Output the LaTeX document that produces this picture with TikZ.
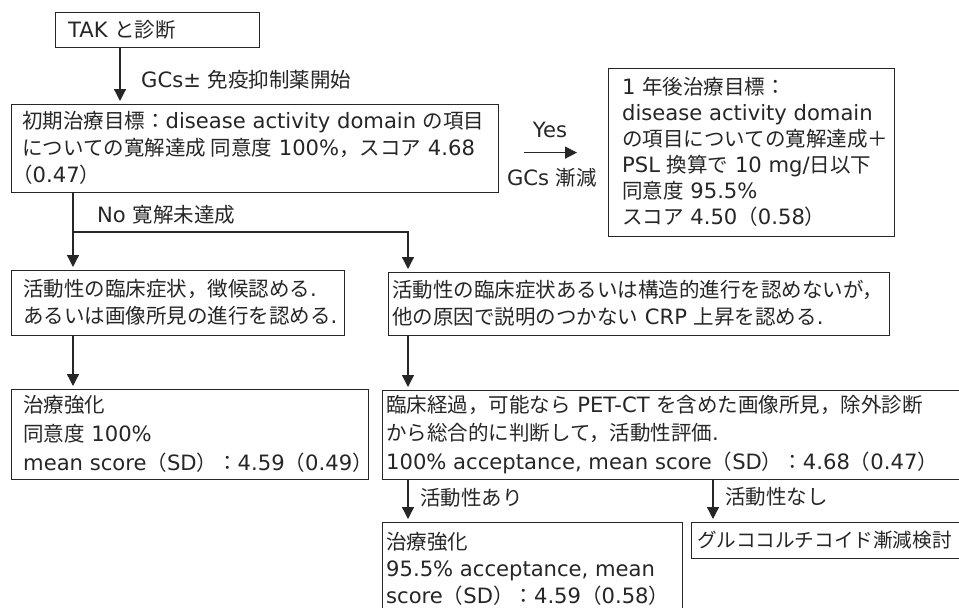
\documentclass[tikz,border=0pt]{standalone}
\usepackage{fontspec}
\setmainfont{DejaVu Sans}[Scale=1.03]
\newfontfamily\jp{Noto Sans CJK JP}
\newcommand\J[1]{{\jp #1}}
\usetikzlibrary{arrows.meta}
\definecolor{ink}{HTML}{262626}
\begin{document}
\begin{tikzpicture}[x=1pt,y=-1pt,
  frame/.style={draw=ink, line width=1.2pt, anchor=north west, inner sep=0pt},
  txt/.style={anchor=west, align=left, inner sep=0pt, text=ink, font=\fontsize{20.5}{27}\selectfont},
  arr/.style={draw=ink, line width=1.3pt, -{Triangle[length=12pt,width=12pt]}, shorten >=3pt}]
\useasboundingbox (0,0) rectangle (959,608);
\fill[white] (0,0) rectangle (959,608);

% columns for connectors
\coordinate (xa) at (120,0);
\coordinate (xl) at (73,0);
\coordinate (xr) at (408,0);
\coordinate (xg) at (713,0);
\coordinate (br) at (73,232);

% frames
\node[frame, minimum width=204pt, minimum height=35pt] (tak) at (55,12) {};
\node[frame, minimum width=487pt, minimum height=88pt] (init) at (11,104) {};
\node[frame, minimum width=286pt, minimum height=168pt] (goal) at (608,68) {};
\node[frame, minimum width=333pt, minimum height=65pt] (symA) at (11,270) {};
\node[frame, minimum width=501pt, minimum height=63pt] (crp) at (388,272) {};
\node[frame, minimum width=357pt, minimum height=90pt] (treatA) at (11,389) {};
\node[frame, minimum width=600pt, minimum height=89pt] (eval) at (382,390) {};
\node[frame, minimum width=300pt, minimum height=100pt] (treatB) at (382,522) {};
\node[frame, minimum width=300pt, minimum height=36pt] (taper) at (691,522) {};

% texts
\node[txt] (takT) at (68,29.5) {TAK \J{と診断}};
\node[txt] (initT) at (22,148) {\J{初期治療目標：}disease activity domain \J{の項目}\\
  \J{についての寛解達成 同意度} 100\%\J{，スコア} 4.68\\
  \kern-10pt\J{（}0.47\J{）}};
\node[txt, font=\fontsize{20.5}{26}\selectfont] (goalT) at (622,152) {1 \J{年後治療目標：}\\
  disease activity domain\\
  \J{の項目についての寛解達成＋}\\
  PSL \J{換算で} 10 mg/\J{日以下}\\
  \J{同意度} 95.5\%\\
  \J{スコア} 4.50\J{（}0.58\J{）}};
\node[txt] (symAT) at (23,302.5) {\J{活動性の臨床症状，徴候認める}.\\
  \J{あるいは画像所見の進行を認める}.};
\node[txt] (crpT) at (392,303.5) {\J{活動性の臨床症状あるいは構造的進行を認めないが，}\\
  \J{他の原因で説明のつかない} CRP \J{上昇を認める}.};
\node[txt, font=\fontsize{20.5}{29}\selectfont] (treatAT) at (23,434) {\J{治療強化}\\
  \J{同意度} 100\%\\
  mean score\J{（}SD\J{）：}4.59\J{（}0.49\J{）}};
\node[txt, font=\fontsize{20.5}{28.5}\selectfont] (evalT) at (386,434.5) {\J{臨床経過，可能なら} PET-CT \J{を含めた画像所見，除外診断}\\
  \J{から総合的に判断して，活動性評価}.\\
  100\% acceptance, mean score\J{（}SD\J{）：}4.68\J{（}0.47\J{）}};
\node[txt] (treatBT) at (386,569) {\J{治療強化}\\
  95.5\% acceptance, mean\\
  score\J{（}SD\J{）：}4.59\J{（}0.58\J{）}};
\node[txt, font=\fontsize{19.6}{27}\selectfont] (taperT) at (697,540) {\J{グルココルチコイド漸減検討}};

% connector labels
\node[txt] (gcs) at (141,80) {GCs± \J{免疫抑制薬開始}};
\node[txt, anchor=center] (yes) at (550,130) {Yes};
\node[txt, anchor=center] (gcsred) at (552,178) {GCs \J{漸減}};
\node[txt] (no) at (97,215) {No \J{寛解未達成}};
\node[txt] (act) at (420,498) {\J{活動性あり}};
\node[txt] (nact) at (725,497) {\J{活動性なし}};

% connectors
\draw[arr] (tak.south -| xa) -- (init.north -| xa);
\draw[arr, shorten <=25pt, shorten >=31pt] (init.east |- goal.west) -- (goal.west);
\draw[arr] (init.south -| xl) -- (symA.north -| xl);
\draw[arr] (br) -| (crp.north -| xr);
\draw[arr] (symA.south -| xl) -- (treatA.north -| xl);
\draw[arr] (crp.south -| xr) -- (eval.north -| xr);
\draw[arr] (eval.south -| xr) -- (treatB.north -| xr);
\draw[arr] (eval.south -| xg) -- (taper.north -| xg);
\end{tikzpicture}
\end{document}
